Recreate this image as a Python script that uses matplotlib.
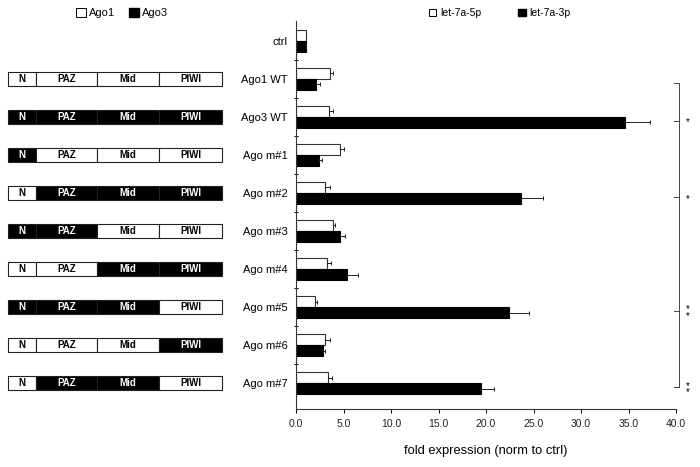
import numpy as np
import matplotlib
matplotlib.use('Agg')
import matplotlib.pyplot as plt
from matplotlib.patches import Rectangle, Patch

plt.rcParams['font.family'] = ['Liberation Sans', 'DejaVu Sans']

# data
categories = ['ctrl', 'Ago1 WT', 'Ago3 WT', 'Ago m#1', 'Ago m#2', 'Ago m#3',
              'Ago m#4', 'Ago m#5', 'Ago m#6', 'Ago m#7']
let5p = [1.0, 3.6, 3.5, 4.6, 3.1, 3.9, 3.3, 2.0, 3.0, 3.4]
let5p_err = [0.0, 0.3, 0.4, 0.4, 0.5, 0.25, 0.4, 0.2, 0.6, 0.35]
let3p = [1.0, 2.1, 34.6, 2.4, 23.7, 4.6, 5.4, 22.4, 2.8, 19.5]
let3p_err = [0.0, 0.4, 2.7, 0.3, 2.3, 0.6, 1.1, 2.1, 0.25, 1.3]

domains = ['N', 'PAZ', 'Mid', 'PIWI']
domain_len = [28, 61, 62, 63]
# 1 = Ago3 (black), 0 = Ago1 (white); one row per construct (ctrl has none)
domain_src = {
    'Ago1 WT': [0, 0, 0, 0],
    'Ago3 WT': [1, 1, 1, 1],
    'Ago m#1': [1, 0, 0, 0],
    'Ago m#2': [0, 1, 1, 1],
    'Ago m#3': [1, 1, 0, 0],
    'Ago m#4': [0, 0, 1, 1],
    'Ago m#5': [1, 1, 1, 0],
    'Ago m#6': [0, 0, 0, 1],
    'Ago m#7': [0, 1, 1, 0],
}

sig_span = ('Ago1 WT', 'Ago m#7')
sig_rows = ['Ago3 WT', 'Ago m#2', 'Ago m#5', 'Ago m#7']
sig_marks = ['*', '*', '**', '**']

W, H = 700, 467
fig = plt.figure(figsize=(7, 4.67), dpi=100)

ax_top, ax_bot = 21, 409
ax = fig.add_axes([296 / W, 1 - ax_bot / H, 380 / W, (ax_bot - ax_top) / H])
ylim = (10.18, -0.02)

centers = np.arange(len(categories)) + 0.5
bh = 0.29
ax.barh(centers - bh / 2, let5p, height=bh, color='white', edgecolor='#333333',
        linewidth=0.8, xerr=[np.zeros(len(let5p)), let5p_err],
        error_kw=dict(ecolor='#222222', elinewidth=0.7, capsize=1.5, capthick=0.7))
ax.barh(centers + bh / 2, let3p, height=bh, color='black', edgecolor='black',
        linewidth=0.8, xerr=[np.zeros(len(let3p)), let3p_err],
        error_kw=dict(ecolor='#222222', elinewidth=0.7, capsize=1.5, capthick=0.7))

ax.set_xlim(0, 40)
ax.set_ylim(*ylim)
ax.set_xticks(np.arange(0, 41, 5))
ax.set_xticklabels([f'{v:.1f}' for v in np.arange(0, 41, 5)], fontsize=7.5, color='#222222')
ax.set_yticks(np.arange(1, len(categories)))
ax.set_yticklabels([])
ax.set_yticks(centers, minor=True)
ax.set_yticklabels(categories, minor=True, fontsize=8)
ax.tick_params(axis='y', which='minor', length=0, pad=6)
ax.tick_params(axis='y', which='major', length=3, direction='inout', width=0.7)
ax.tick_params(axis='x', length=3, width=0.7, pad=4)
for s in ['top', 'right']:
    ax.spines[s].set_visible(False)
for s in ['left', 'bottom']:
    ax.spines[s].set_linewidth(0.8)
    ax.spines[s].set_color('#333333')
ax.set_xlabel('fold expression (norm to ctrl)', fontsize=9.3, labelpad=12)

# significance bracket
idx = {c: i for i, c in enumerate(categories)}
bx, tick = 40.3, 0.5
off = 0.1
y0 = centers[idx[sig_span[0]]] + off
y1 = centers[idx[sig_span[1]]] + off
ax.plot([bx - tick, bx, bx, bx - tick], [y0, y0, y1, y1], color='#444444',
        lw=0.7, clip_on=False)
for row, m in zip(sig_rows, sig_marks):
    yy = centers[idx[row]] + off
    ax.plot([bx - tick, bx], [yy, yy], color='#444444', lw=0.7, clip_on=False)
    ax.text(bx + 0.95, yy + 0.05, '\n'.join(m), fontsize=7, linespacing=0.55,
            ha='center', va='center', clip_on=False)

# domain diagrams
axd = fig.add_axes([0, 1 - ax_bot / H, 280 / W, (ax_bot - ax_top) / H])
axd.set_xlim(0, 280)
axd.set_ylim(*ylim)
axd.axis('off')
box_h = 0.37
for name, src in domain_src.items():
    yc = centers[idx[name]]
    x = 8
    for dom, ln, s in zip(domains, domain_len, src):
        fc = 'black' if s else 'white'
        axd.add_patch(Rectangle((x, yc - box_h / 2), ln, box_h, facecolor=fc,
                                edgecolor='#222222', linewidth=0.8))
        axd.text(x + ln / 2, yc, dom, ha='center', va='center', fontsize=7,
                 fontweight='bold', color='white' if s else 'black')
        x += ln

# legends
fig.legend(handles=[Patch(facecolor='white', edgecolor='black', linewidth=0.7, label='Ago1'),
                    Patch(facecolor='black', edgecolor='black', label='Ago3')],
           loc='center', bbox_to_anchor=(122 / W, 1 - 13 / H), ncol=2, frameon=False,
           fontsize=8, handlelength=0.9, handleheight=0.9, handletextpad=0.3,
           columnspacing=1.2)
fig.legend(handles=[Patch(facecolor='white', edgecolor='black', linewidth=0.7, label='let-7a-5p'),
                    Patch(facecolor='black', edgecolor='black', label='let-7a-3p')],
           loc='center', bbox_to_anchor=(500 / W, 1 - 13 / H), ncol=2, frameon=False,
           fontsize=7.5, handlelength=0.7, handleheight=0.7, handletextpad=0.4,
           columnspacing=3.5)

fig.savefig('out.png', dpi=100)
